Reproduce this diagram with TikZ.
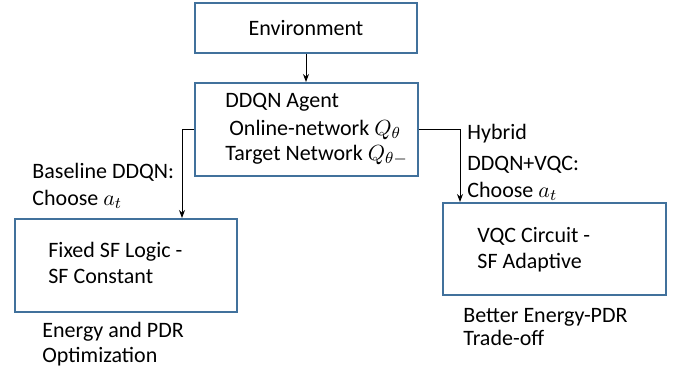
\documentclass[tikz,border=0pt]{standalone}
\usepackage{amsmath}
\usepackage{fontspec}
\setmainfont{Carlito}
\usetikzlibrary{arrows.meta}
\definecolor{boxblue}{RGB}{65,113,156}

\begin{document}
\begin{tikzpicture}[x=0.5pt,y=-0.5pt]
\tikzstyle{every node}+=[inner sep=0pt,font=\fontsize{11}{13.5}\selectfont]
\tikzstyle{blockbox}=[draw=boxblue,line width=1pt,rectangle]
\tikzstyle{txt}=[anchor=base west]
\tikzstyle{link}=[black,line width=0.5pt,-{Stealth[length=4pt,width=3pt]}]
\useasboundingbox (0,0) rectangle (674,369);
\node [blockbox,minimum width=111pt,minimum height=25pt] (env) at (306,28) {Environment};
\node [blockbox,minimum width=111.5pt,minimum height=46.5pt] (ddqn) at (306.5,129.5) {};
\node [blockbox,minimum width=111pt,minimum height=46.5pt] (fixedsf) at (126,265.5) {};
\node [blockbox,minimum width=111.5pt,minimum height=46pt] (vqc) at (554.5,249) {};
\node [txt] (agent) at (225,108) {DDQN Agent};
\node [txt] (online) at (229,135) {Online-network $Q_{\theta}$};
\node [txt] (target) at (225,160) {Target Network $Q_{\theta{-}}$};
\node [txt] (base1) at (32,178) {Baseline DDQN:};
\node [txt] (base2) at (32,205) {Choose $a_t$};
\node [txt] (fixed1) at (48,257) {Fixed SF Logic -};
\node [txt] (fixed2) at (48,283) {SF Constant};
\node [txt] (opt1) at (42,337) {Energy and PDR};
\node [txt] (opt2) at (42,362) {Optimization};
\node [txt] (hyb1) at (467,140) {Hybrid};
\node [txt] (hyb2) at (467,170) {DDQN+VQC:};
\node [txt] (hyb3) at (467,197) {Choose $a_t$};
\node [txt] (vqc1) at (477,242) {VQC Circuit -};
\node [txt] (vqc2) at (477,268) {SF Adaptive};
\node [txt] (trade1) at (463,322) {Better Energy-PDR};
\node [txt] (trade2) at (463,345) {Trade-off};
\coordinate (lbend) at (182,129.5);
\coordinate (rbend) at (460,129.5);
\draw [link] (env.south) -- (env.south |- ddqn.north);
\draw [link] (ddqn.west) -- (lbend) -- (lbend |- fixedsf.north);
\draw [link] (ddqn.east) -- (rbend) -- (rbend |- vqc.north);
\end{tikzpicture}
\end{document}
